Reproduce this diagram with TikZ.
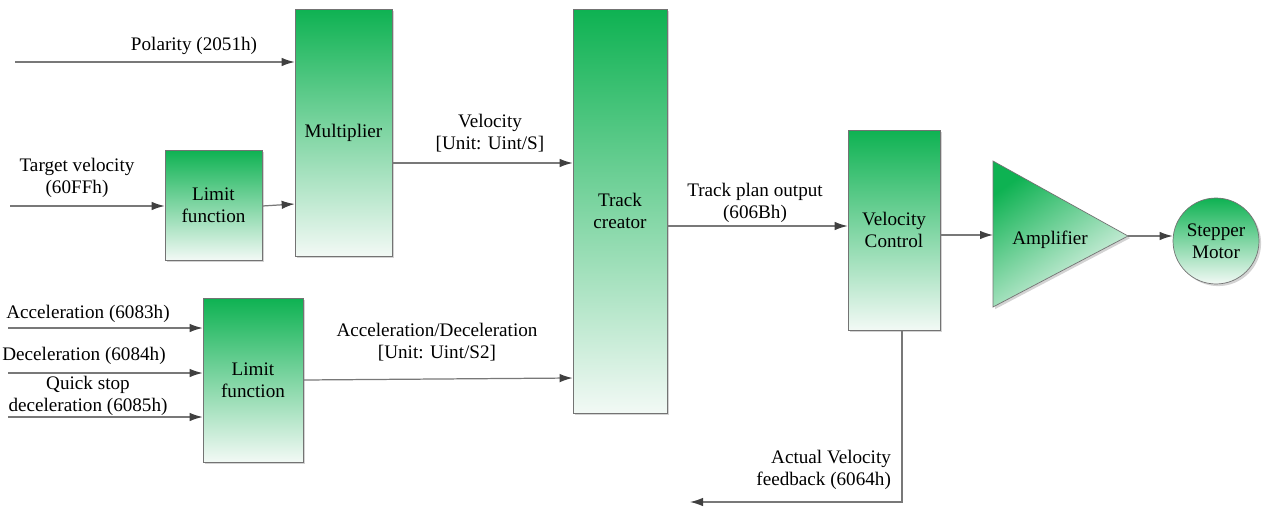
\documentclass[tikz,border=0pt]{standalone}
\usepackage{fontspec}
\setmainfont{Liberation Serif}
\usepackage{tikz}
\usetikzlibrary{positioning,arrows.meta,shadows,calc}

\definecolor{blkTop}{RGB}{14,178,82}
\definecolor{blkBot}{RGB}{242,249,245}
\definecolor{lineGray}{RGB}{120,120,120}
\definecolor{tipGray}{RGB}{64,64,64}

\begin{document}
\begin{tikzpicture}[
  x=0.02cm, y=-0.02cm,
  every node/.style={font=\rmfamily\fontsize{10.9}{12.5}\selectfont, text=black},
  blk/.style={draw=gray!90!black, top color=blkTop, bottom color=blkBot, inner sep=0pt, align=center,
    drop shadow={shadow xshift=1.2pt, shadow yshift=-1.2pt, opacity=0.35}},
  sig/.style={draw=lineGray, line width=0.7pt, -{Latex[length=2.6mm,width=1.7mm,color=tipGray]}},
  lbl/.style={align=center, inner sep=1pt}
]
\useasboundingbox (0,0) rectangle (1265,507);

% blocks
\node[blk, minimum width=1.94cm, minimum height=4.94cm] (mult) at (343.5,132.5) {Multiplier};
\node[blk, minimum width=1.94cm, minimum height=2.2cm] (lim1) at (213.5,205) {Limit\\function};
\node[blk, minimum width=2.0cm, minimum height=3.28cm] (lim2) at (253,380) {Limit\\function};
\node[blk, minimum width=1.88cm, minimum height=8.08cm] (track) at (620,211) {Track\\creator};
\node[blk, minimum width=1.84cm, minimum height=4.0cm] (vc) at (894,230) {Velocity\\Control};

% amplifier (triangle)
\coordinate (amp top) at (993,161);
\coordinate (amp bot) at (993,307);
\coordinate (amp tip) at (1128,236);
\coordinate (amp in) at (993,235);
\path[draw=gray!90!black, top color=blkTop, bottom color=blkBot, shading angle=35,
  drop shadow={shadow xshift=1.2pt, shadow yshift=-1.2pt, opacity=0.35}]
  (amp top) -- (amp tip) -- (amp bot) -- cycle;
\node (amp) at (1050,240) {Amplifier};

% motor
\node[blk, circle, minimum size=1.72cm] (motor) at (1216,241) {Stepper\\Motor};

% free ends
\coordinate (pol in) at (15,62);
\coordinate (tv in) at (10,206);
\coordinate (acc in) at (8,328);
\coordinate (dec in) at (8,373);
\coordinate (qs in) at (8,417);
\coordinate (fb end) at (690,502);

% connectors
\draw[sig] (pol in) -- (pol in -| mult.west);
\draw[sig] (tv in) -- (tv in -| lim1.west);
\draw[sig] (lim1.east |- 0,206) -- (mult.west |- 0,204);
\draw[sig] (mult.east |- 0,163) -- (track.west |- 0,163);
\draw[sig] (acc in) -- (acc in -| lim2.west);
\draw[sig] (dec in) -- (dec in -| lim2.west);
\draw[sig] (qs in) -- (qs in -| lim2.west);
\draw[sig] (lim2.east) -- (track.west |- 0,378);
\draw[sig] (track.east |- 0,226) -- (vc.west |- 0,226);
\draw[sig] (vc.east |- amp in) -- (amp in);
\draw[sig] (amp tip) -- (amp tip -| motor.west);
\draw[sig] ([xshift=0.16cm]vc.south) |- (fb end);

% labels
\node[lbl] (pol lbl) at (194,46) {Polarity (2051h)};
\node[lbl] (tv lbl) at (77,178) {Target velocity\\(60FFh)};
\node[lbl] (acc lbl) at (88,314) {Acceleration (6083h)};
\node[lbl] (dec lbl) at (84,356) {Deceleration (6084h)};
\node[lbl] (qs lbl) at (88,396) {Quick stop\\deceleration (6085h)};
\node[lbl] (vel lbl) at (490,133) {Velocity\\{[Unit: Uint/S]}};
\node[lbl] (ad lbl) at (437,342) {Acceleration/Deceleration\\{[Unit: Uint/S2]}};
\node[lbl] (tp lbl) at (755,203) {Track plan output\\(606Bh)};
\node[lbl, align=right, anchor=east] (fb lbl) at (893,470) {Actual Velocity\\feedback (6064h)};
\end{tikzpicture}
\end{document}
